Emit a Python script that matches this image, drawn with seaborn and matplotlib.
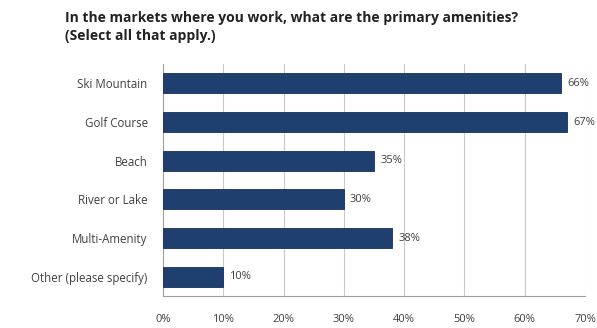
import matplotlib
matplotlib.use("Agg")
import matplotlib.pyplot as plt
import seaborn as sns
import pandas as pd

categories = ["Ski Mountain", "Golf Course", "Beach", "River or Lake",
              "Multi-Amenity", "Other (please specify)"]
values = [66, 67, 35, 30, 38, 10]
xticks = [0, 10, 20, 30, 40, 50, 60, 70]
title = ("In the markets where you work, what are the primary amenities?\n"
         "(Select all that apply.)")

sns.set_theme(style="white")
plt.rcParams["font.family"] = ["Open Sans", "DejaVu Sans"]

df = pd.DataFrame({"amenity": categories, "pct": values})

fig = plt.figure(figsize=(5.97, 3.28), dpi=100)
ax = fig.add_axes([0.273, 0.097, 0.707, 0.708])

bar_color = "#1f3f6e"
sns.barplot(data=df, y="amenity", x="pct", orient="h", color=bar_color,
            saturation=1, width=0.52, ax=ax, zorder=3)
for p in ax.patches:
    p.set_edgecolor("#16305a")
    p.set_linewidth(0.6)

ax.set_xlim(0, 70)
ax.set_xticks(xticks)
ax.set_xticklabels([f"{t}%" for t in xticks], fontsize=8, color="#404040")
ax.tick_params(axis="x", length=3, color="#a0a0a0", pad=10)
ax.tick_params(axis="y", length=0, pad=11, labelsize=8.3, labelcolor="#404040")
ax.grid(axis="x", color="#c8c8c8", linewidth=0.8, zorder=0)
ax.set_xlabel("")
ax.set_ylabel("")

for side in ["top", "right"]:
    ax.spines[side].set_visible(False)
ax.spines["left"].set_color("#a0a0a0")
ax.spines["bottom"].set_color("#a0a0a0")
ax.spines["left"].set_linewidth(0.8)
ax.spines["bottom"].set_linewidth(0.8)

for i, v in enumerate(values):
    ax.text(v + 1.0, i, f"{v}%", va="center", ha="left", fontsize=8,
            color="#404040", zorder=4)

fig.text(0.109, 0.87, title, fontsize=10, fontweight="bold",
         color="#222222", ha="left", va="bottom", linespacing=1.3)

fig.savefig("out.png", dpi=100)
